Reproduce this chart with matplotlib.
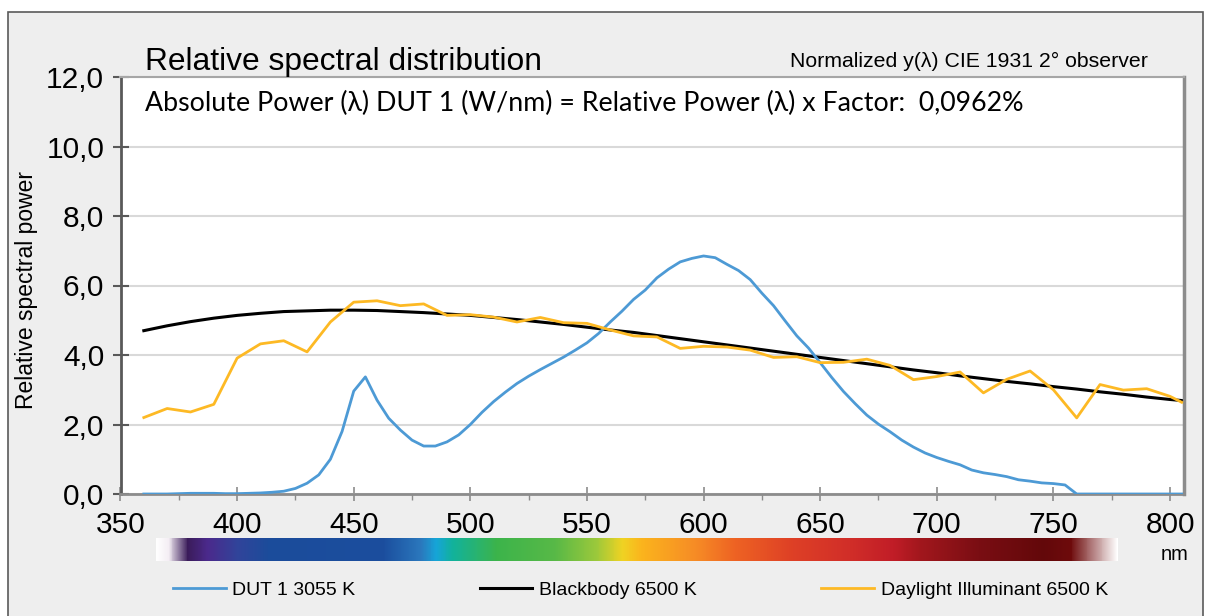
import matplotlib.pyplot as plt
import numpy as np
from matplotlib.colors import LinearSegmentedColormap
from matplotlib.patches import Rectangle

# Data
wl_dut = list(range(360, 806, 5))
dut = [0.0, 0.0, 0.0, 0.01, 0.02, 0.02, 0.02, 0.01, 0.01, 0.02,
       0.03, 0.05, 0.08, 0.16, 0.31, 0.55, 1.00, 1.80, 2.96, 3.37,
       2.70, 2.18, 1.84, 1.55, 1.38, 1.38, 1.50, 1.70, 2.00, 2.35,
       2.66, 2.93, 3.18, 3.39, 3.58, 3.76, 3.94, 4.14, 4.35, 4.62,
       4.95, 5.26, 5.60, 5.87, 6.22, 6.47, 6.68, 6.78, 6.85, 6.80,
       6.61, 6.43, 6.17, 5.78, 5.42, 4.98, 4.55, 4.20, 3.78, 3.35,
       2.95, 2.60, 2.27, 2.01, 1.79, 1.55, 1.35, 1.18, 1.05, 0.94,
       0.84, 0.69, 0.61, 0.56, 0.50, 0.41, 0.37, 0.32, 0.30, 0.26,
       0.0, 0.0, 0.0, 0.0, 0.0, 0.0, 0.0, 0.0, 0.0, 0.0]

wl_ref = list(range(360, 801, 10)) + [805]
blackbody = [4.70, 4.84, 4.96, 5.06, 5.14, 5.20, 5.25, 5.27, 5.29, 5.29,
             5.28, 5.25, 5.22, 5.18, 5.14, 5.08, 5.02, 4.95, 4.88, 4.80,
             4.72, 4.65, 4.56, 4.47, 4.38, 4.29, 4.20, 4.11, 4.02, 3.93,
             3.84, 3.75, 3.66, 3.57, 3.49, 3.40, 3.32, 3.24, 3.17, 3.09,
             3.02, 2.94, 2.87, 2.79, 2.72, 2.69]
daylight = [2.20, 2.46, 2.36, 2.58, 3.91, 4.32, 4.41, 4.09, 4.95, 5.52,
            5.56, 5.42, 5.47, 5.14, 5.16, 5.09, 4.95, 5.08, 4.93, 4.91,
            4.72, 4.55, 4.52, 4.19, 4.25, 4.23, 4.14, 3.93, 3.95, 3.78,
            3.79, 3.88, 3.70, 3.29, 3.38, 3.51, 2.91, 3.30, 3.54, 3.00,
            2.19, 3.15, 2.99, 3.03, 2.81, 2.64]

series_labels = ['DUT 1 3055 K', 'Blackbody 6500 K', 'Daylight Illuminant 6500 K']
y_ticks = [0, 2, 4, 6, 8, 10, 12]
y_tick_labels = ['0,0', '2,0', '4,0', '6,0', '8,0', '10,0', '12,0']
x_ticks = [350, 400, 450, 500, 550, 600, 650, 700, 750, 800]

# spectrum strip colours
spec_stops = [(0.0, '#ffffff'), (0.012, '#f4eef4'), (0.032, '#3b1c5a'),
              (0.053, '#4b2a8c'), (0.084, '#31449a'), (0.116, '#1c4c9b'),
              (0.236, '#1b4e9e'), (0.275, '#2b78bd'), (0.291, '#16a5d8'),
              (0.308, '#12b29c'), (0.354, '#3cb44b'), (0.415, '#58b947'),
              (0.458, '#9cc93b'), (0.485, '#f0d323'), (0.505, '#fbb41d'),
              (0.562, '#f68b26'), (0.602, '#ee6323'), (0.662, '#de4026'),
              (0.722, '#d12e29'), (0.767, '#c11d27'), (0.795, '#a2171d'),
              (0.856, '#7a0e13'), (0.923, '#63080a'), (0.952, '#6e0b0c'),
              (1.0, '#ffffff')]

plt.rcParams['font.family'] = ['Liberation Sans', 'DejaVu Sans']

W, H = 1206, 616
fig = plt.figure(figsize=(W / 100, H / 100), dpi=100)
fig.patch.set_facecolor('white')

# grey chart area with border
fig.patches.append(Rectangle((8 / W, -0.05), (1203 - 8) / W, 1.05 - 12 / H,
                             transform=fig.transFigure, facecolor='#eeeeee',
                             edgecolor='#5a5a5a', linewidth=1.2, zorder=-5))

ax = fig.add_axes([120.5 / W, 1 - 494 / H, (1184 - 120.5) / W, (494 - 77) / H])
ax.set_facecolor('white')

l_dut, = ax.plot(wl_dut, dut, color='#4d9ad5', linewidth=2.0, zorder=3)
l_bb, = ax.plot(wl_ref, blackbody, color='black', linewidth=2.2, zorder=2)
l_dl, = ax.plot(wl_ref, daylight, color='#fdb924', linewidth=2.0, zorder=4)

ax.set_xlim(350, 806)
ax.set_ylim(0, 12)
ax.set_xticks(x_ticks)
ax.set_xticks(range(375, 806, 50), minor=True)
ax.set_yticks(y_ticks)
ax.set_yticklabels(y_tick_labels)
ax.tick_params(axis='x', which='major', direction='inout', length=10, width=1.2,
               color='#8c8c8c', labelsize=21.5, pad=7)
ax.tick_params(axis='x', which='minor', direction='out', length=4.5, width=1.0,
               color='#8c8c8c')
ax.tick_params(axis='y', direction='inout', length=11.5, width=1.5,
               color='#595959', labelsize=21.5, pad=6)
ax.grid(axis='y', color='#d9d9d9', linewidth=1.5)
ax.set_axisbelow(True)

ax.spines['left'].set_color('#595959')
ax.spines['left'].set_linewidth(2.0)
ax.spines['bottom'].set_color('#8c8c8c')
ax.spines['bottom'].set_linewidth(2.0)
ax.spines['right'].set_color('#8c8c8c')
ax.spines['right'].set_linewidth(2.5)
ax.spines['top'].set_color('#a6a6a6')
ax.spines['top'].set_linewidth(1.5)

# texts
fig.text(145 / W, 1 - 70 / H, 'Relative spectral distribution', fontsize=22.9,
         ha='left', va='baseline')
fig.text(1148 / W, 1 - 67 / H, 'Normalized y(λ) CIE 1931 2° observer', fontsize=15.3,
         ha='right', va='baseline')
fig.text(145 / W, 1 - 111 / H,
         'Absolute Power (λ) DUT 1 (W/nm) = Relative Power (λ) x Factor:  0,0962%',
         fontsize=19.3, family=['Lato', 'DejaVu Sans'], ha='left', va='baseline')
fig.text(27 / W, 1 - 290 / H, 'Relative spectral power', fontsize=16.5,
         rotation=90, ha='center', va='center')
fig.text(1175 / W, 1 - 555 / H, 'nm', fontsize=14.5, ha='center', va='center')

# spectrum strip
sax = fig.add_axes([156 / W, 1 - 561 / H, (1118 - 156) / W, 23 / H])
cmap = LinearSegmentedColormap.from_list('spec', spec_stops, N=1024)
sax.imshow(np.linspace(0, 1, 962)[None, :], aspect='auto', cmap=cmap,
           interpolation='bilinear')
sax.axis('off')

fig.legend([l_dut, l_bb, l_dl], series_labels, loc='center left',
           bbox_to_anchor=(173 / W, 1 - 590 / H), ncol=3, frameon=False,
           fontsize=14, handlelength=2.7, handletextpad=0.35,
           columnspacing=6.4, borderpad=0, borderaxespad=0)

plt.savefig('out.png', dpi=100)
